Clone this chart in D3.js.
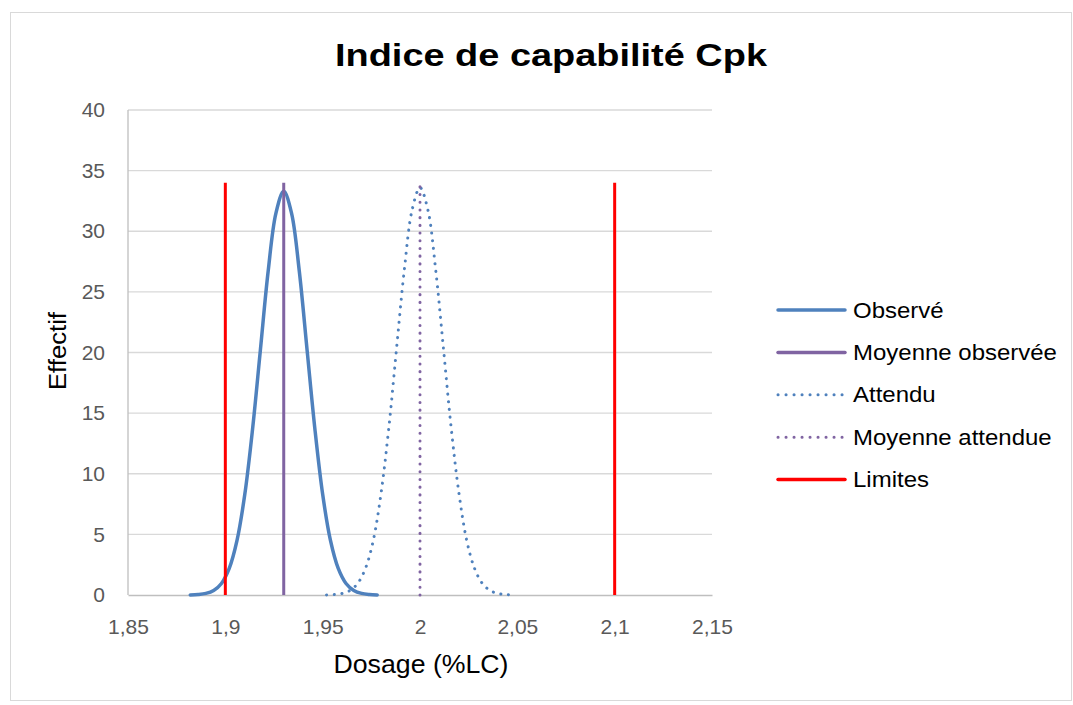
<!DOCTYPE html>
<html><head><meta charset="utf-8">
<script src="https://cdn.jsdelivr.net/npm/d3@7"></script>
<style>body{margin:0;background:#fff;font-family:"Liberation Sans",Arial,sans-serif}</style>
</head><body><svg id="c" width="1073" height="705"></svg>
<script>
// Data
const xTicks = [1.85, 1.9, 1.95, 2.0, 2.05, 2.1, 2.15];
const yTicks = [0, 5, 10, 15, 20, 25, 30, 35, 40];
const obsX = [1.882,1.886,1.890,1.894,1.898,1.902,1.906,1.910,1.914,1.918,1.922,1.926,1.930,1.934,1.938,1.942,1.946,1.950,1.954,1.958,1.962,1.966,1.970,1.974,1.978];
const obsY = [0.01,0.04,0.13,0.37,0.95,2.19,4.5,8.3,13.7,20.2,26.7,31.5,33.3,31.5,26.7,20.2,13.7,8.3,4.5,2.19,0.95,0.37,0.13,0.04,0.01];
const expX = [1.952,1.956,1.960,1.964,1.968,1.972,1.976,1.980,1.984,1.988,1.992,1.996,2.000,2.004,2.008,2.012,2.016,2.020,2.024,2.028,2.032,2.036,2.040,2.044,2.048];
const expY = [0.01,0.04,0.13,0.37,0.96,2.2,4.5,8.4,13.8,20.4,26.9,31.8,33.6,31.8,26.9,20.4,13.8,8.4,4.5,2.2,0.96,0.37,0.13,0.04,0.01];
const meanObs = 1.93, meanExp = 2.0, limits = [1.9, 2.1], lineTop = 34;
const legendLabels = ["Observé","Moyenne observée","Attendu","Moyenne attendue","Limites"];

const svg = d3.select("#c");
svg.append("rect").attr("x",10.5).attr("y",12.5).attr("width",1061).attr("height",688).attr("fill","#fff").attr("stroke","#d9d9d9");

const x = d3.scaleLinear().domain([1.85,2.15]).range([128,712]);
const y = d3.scaleLinear().domain([0,40]).range([595,110]);
const fmt = d => d3.format("")(d).replace(".", ",");

// gridlines
svg.append("g").selectAll("line").data(yTicks.filter(d=>d>0)).join("line")
  .attr("x1",x(1.85)).attr("x2",x(2.15)).attr("y1",d=>y(d)).attr("y2",d=>y(d))
  .attr("stroke","#d9d9d9").attr("stroke-width",1.3);
svg.append("line").attr("x1",x(1.85)).attr("x2",x(1.85)).attr("y1",y(40)).attr("y2",y(0)).attr("stroke","#bfbfbf").attr("stroke-width",1.3);

// y axis
const ya = svg.append("g").attr("transform",`translate(${x(1.85)},0)`)
  .call(d3.axisLeft(y).tickValues(yTicks).tickSize(0).tickPadding(23).tickFormat(d=>d));
ya.select(".domain").remove();
ya.selectAll("text").attr("font-size",21).attr("fill","#595959").attr("font-family","Liberation Sans, Arial");
// x axis
const xa = svg.append("g").attr("transform",`translate(0,${y(0)})`)
  .call(d3.axisBottom(x).tickValues(xTicks).tickSize(0).tickPadding(24).tickFormat(fmt));
xa.select(".domain").attr("stroke","#bfbfbf").attr("stroke-width",1.6);
xa.selectAll("text").attr("font-size",21).attr("fill","#595959").attr("font-family","Liberation Sans, Arial");

const blue="#4f81bd", purple="#8064a2", red="#ff0000";
const dots = "0.1 7.6";
const line = d3.line().x(d=>x(d[0])).y(d=>y(d[1])).curve(d3.curveCatmullRom);

svg.append("path").datum(expX.map((v,i)=>[v,expY[i]])).attr("d",line)
  .attr("fill","none").attr("stroke",blue).attr("stroke-width",3).attr("stroke-linecap","round").attr("stroke-dasharray",dots);
svg.append("line").attr("x1",x(meanExp)).attr("x2",x(meanExp)).attr("y1",y(0)).attr("y2",y(lineTop))
  .attr("stroke",purple).attr("stroke-width",3).attr("stroke-linecap","round").attr("stroke-dasharray",dots);
svg.append("path").datum(obsX.map((v,i)=>[v,obsY[i]])).attr("d",line)
  .attr("fill","none").attr("stroke",blue).attr("stroke-width",3.5).attr("stroke-linecap","round");
svg.append("line").attr("x1",x(meanObs)).attr("x2",x(meanObs)).attr("y1",y(0)).attr("y2",y(lineTop))
  .attr("stroke",purple).attr("stroke-width",3);
svg.append("g").selectAll("line").data(limits).join("line")
  .attr("x1",d=>x(d)).attr("x2",d=>x(d)).attr("y1",y(0)).attr("y2",y(lineTop))
  .attr("stroke",red).attr("stroke-width",3);

// Title
svg.append("text").attr("x",551).attr("y",66).attr("text-anchor","middle")
  .attr("font-size",32).attr("font-weight","bold").attr("fill","#000")
  .attr("textLength",432).attr("lengthAdjust","spacingAndGlyphs").text("Indice de capabilité Cpk");
// axis titles
svg.append("text").attr("x",421).attr("y",673).attr("text-anchor","middle").attr("font-size",25).attr("fill","#000")
  .attr("textLength",175).attr("lengthAdjust","spacingAndGlyphs").text("Dosage (%LC)");
svg.append("text").attr("transform","translate(66,351) rotate(-90)").attr("text-anchor","middle").attr("font-size",23).attr("fill","#000")
  .attr("textLength",78).attr("lengthAdjust","spacingAndGlyphs").text("Effectif");

// Legend
const styles = [
  {c:blue,w:3.5,d:false},{c:purple,w:3.5,d:false},{c:blue,w:3,d:true},{c:purple,w:3,d:true},{c:red,w:3.5,d:false}];
const lg = svg.append("g");
legendLabels.forEach((t,i)=>{
  const yy = 310 + i*42.4;
  const s = styles[i];
  const l = lg.append("line").attr("x1",778).attr("x2",845).attr("y1",yy).attr("y2",yy)
    .attr("stroke",s.c).attr("stroke-width",s.w).attr("stroke-linecap","round");
  if (s.d) l.attr("stroke-dasharray","0.1 7.9");
  const tx = lg.append("text").attr("x",853).attr("y",yy+7.5).attr("font-size",22).attr("fill","#000").text(t);
  const w = tx.node().getComputedTextLength();
  tx.attr("textLength", w*1.09).attr("lengthAdjust","spacingAndGlyphs");
});
</script></body></html>
